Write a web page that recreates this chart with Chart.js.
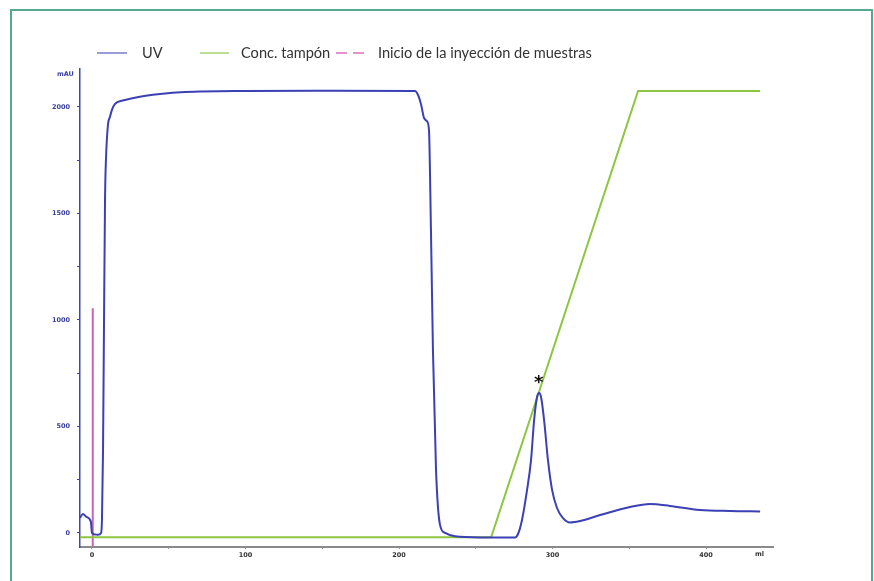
<!DOCTYPE html>
<html>
<head>
<meta charset="utf-8">
<script src="https://cdn.jsdelivr.net/npm/chart.js@4.4.0/dist/chart.umd.min.js"></script>
<style>
  html, body { margin: 0; padding: 0; background: #ffffff; overflow: hidden; }
  #wrap { position: relative; width: 874px; height: 581px; }
  #frame { position: absolute; left: 10px; top: 9px; width: 859px; height: 620px; border: 2px solid #55a891; border-bottom: none; }
  #c { position: absolute; left: 0; top: 0; }
  .leg { position: absolute; top: 44px; font-family: Lato, "Liberation Sans", sans-serif; font-size: 14.6px; color: #333; white-space: nowrap; line-height: 18px; }
  .sw { position: absolute; top: 52px; height: 2px; }
</style>
</head>
<body>
<div id="wrap">
  <div id="frame"></div>
  <canvas id="c" width="874" height="581"></canvas>
  <div class="sw" style="left:97px;width:30px;background:#9d9ad8;"></div>
  <div class="leg" style="left:142px;">UV</div>
  <div class="sw" style="left:200px;width:29px;background:#bcdd92;"></div>
  <div class="leg" style="left:241px;">Conc. tampón</div>
  <div class="sw" style="left:336px;width:11px;background:#e590cf;"></div>
  <div class="sw" style="left:353px;width:11px;background:#e590cf;"></div>
  <div class="leg" style="left:378px;">Inicio de la inyección de muestras</div>
</div>
<script>
// ---- data ----
const uvMl = [-7.8,-5.9,-3.5,-0.7,0,2,3.9,5.9,6.5,7.2,7.8,8.5,9.1,10.4,11.7,13,15,20,24.8,35,44.3,60.6,100,150,210.4,212.4,214.3,216.3,218.2,219.5,220.8,222.1,224.1,226.7,230,236.5,252.8,275.6,277.5,280.1,283.4,286,288,289.9,291.2,292.5,294.5,297,299.7,302.9,306.8,311.4,317.9,331,350.5,363.5,376.5,396,415.6,435.2];
const uvMau = [70,89,75,52,0,-7,-9,0,61,390,953,1563,1751,1915,1953,1986,2014,2030,2038,2052,2061,2070,2075,2076,2075,2056,2014,1948,1933,1892,1422,859,296,38,0,-16,-21,-21,-5,61,202,343,530,638,657,638,530,343,202,117,70,49,56,84,122,136,127,108,103,101];
const bufferMl = [-7.8, 260, 355.7, 435.2];
const bufferMau = [-20, -20, 2075, 2075];
const injectionMl = [0.5, 0.5];
const injectionMau = [-66, 1055];
const yTickValues = [0,250,500,750,1000,1250,1500,1750,2000];
const yTickLabels = ['0','','500','','1000','','1500','','2000'];
const xTickValues = [0,50,100,150,200,250,300,350,400];
const xTickLabels = ['0','','100','','200','','300','','400'];
const peakMarker = {ml: 291, mau: 715, text: '*'};
const xUnit = 'ml';
const yUnit = 'mAU';

const toXY = (xs, ys) => xs.map((x, i) => ({x: x, y: ys[i]}));

const extras = {
  id: 'extras',
  afterDatasetsDraw(chart) {
    const ctx = chart.ctx;
    const xs = chart.scales.x, ys = chart.scales.y;
    ctx.save();
    ctx.fillStyle = '#111';
    ctx.font = 'bold 18px "DejaVu Sans", sans-serif';
    ctx.textAlign = 'center';
    ctx.textBaseline = 'middle';
    ctx.fillText(peakMarker.text, xs.getPixelForValue(peakMarker.ml), ys.getPixelForValue(peakMarker.mau) + 3);
    ctx.font = 'bold 6.5px "DejaVu Sans", sans-serif';
    ctx.fillStyle = '#3a3f9e';
    ctx.textAlign = 'left';
    ctx.fillText(yUnit, 57, chart.chartArea.top + 5);
    ctx.fillStyle = '#333';
    ctx.fillText(xUnit, 755, chart.chartArea.bottom + 7);
    ctx.restore();
  }
};

new Chart(document.getElementById('c'), {
  type: 'line',
  data: {
    datasets: [
      { label: 'UV', data: toXY(uvMl, uvMau), borderColor: '#3b40b4', borderWidth: 2, pointRadius: 0, cubicInterpolationMode: 'monotone', order: 1 },
      { label: 'Conc. tampón', data: toXY(bufferMl, bufferMau), borderColor: '#8cc640', borderWidth: 2, pointRadius: 0, tension: 0, order: 2 },
      { label: 'Inicio de la inyección de muestras', data: toXY(injectionMl, injectionMau), borderColor: '#c565b8', borderWidth: 2, pointRadius: 0, tension: 0, order: 3 }
    ]
  },
  options: {
    responsive: false,
    animation: false,
    events: [],
    layout: { padding: { left: 0, top: 69, right: 101, bottom: 0 } },
    plugins: { legend: { display: false }, tooltip: { enabled: false } },
    scales: {
      x: {
        type: 'linear', min: -7.8, max: 443.6,
        afterFit(s) { s.height = 34; },
        afterBuildTicks(s) { s.ticks = xTickValues.map(v => ({value: v})); },
        grid: { drawOnChartArea: false, tickLength: 2, tickColor: '#999', tickWidth: 1 },
        border: { color: '#8a8a8a', width: 2 },
        ticks: { autoSkip: false, maxRotation: 0, padding: 2, color: '#333', font: { family: '"DejaVu Sans", sans-serif', size: 6.5, weight: 'bold' },
          callback(v) { const i = xTickValues.indexOf(v); return i >= 0 ? xTickLabels[i] : ''; } }
      },
      y: {
        type: 'linear', min: -66, max: 2178,
        afterFit(s) { s.width = 80; },
        afterBuildTicks(s) { s.ticks = yTickValues.map(v => ({value: v})); },
        grid: { drawOnChartArea: false, tickLength: 3, tickColor: '#3b40b4', tickWidth: 1 },
        border: { color: '#3f47b6', width: 1.5 },
        ticks: { autoSkip: false, padding: 7, color: '#3a3f9e', font: { family: '"DejaVu Sans", sans-serif', size: 6.5, weight: 'bold' },
          callback(v) { const i = yTickValues.indexOf(v); return i >= 0 ? yTickLabels[i] : ''; } }
      }
    }
  },
  plugins: [extras]
});
</script>
</body>
</html>
